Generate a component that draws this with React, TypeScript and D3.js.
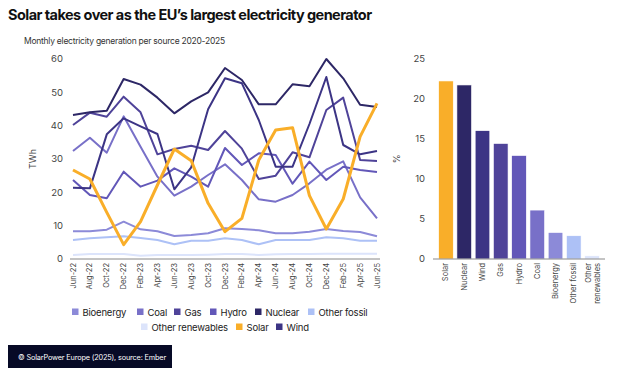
import * as d3 from "d3";
import React from "react";

// bimonthly points, Jun-22 .. Jun-25
const months = ["Jun-22", "Aug-22", "Oct-22", "Dec-22", "Feb-23", "Apr-23", "Jun-23", "Aug-23", "Oct-23", "Dec-23", "Feb-24", "Apr-24", "Jun-24", "Aug-24", "Oct-24", "Dec-24", "Feb-25", "Apr-25", "Jun-25"];

const nuclear = [43.2, 44, 44.5, 54, 52.3, 48.4, 43.7, 47.3, 50, 57.3, 53.7, 46.4, 46.4, 52.4, 51.8, 60, 54.2, 46.3, 45.6];
const wind = [21.4, 21.2, 37.4, 42.2, 39.8, 37.5, 20.9, 27.5, 44.9, 54.2, 52.7, 41.7, 27.7, 27.7, 40.5, 54.6, 34.2, 31.4, 32.4];
const gas = [40.2, 43.9, 42.7, 48.7, 44, 31.4, 33, 34, 32.7, 38.4, 33.1, 24, 25, 32, 30.5, 44.7, 48.4, 29.7, 29.4];
const hydro = [23.7, 19.2, 18.2, 26.2, 21.7, 23.5, 27.2, 24.7, 21.7, 33.3, 28.2, 31.7, 31.2, 22.6, 29.2, 23.7, 27.7, 26.7, 26.1];
const coal = [32.4, 36.4, 31.9, 42.8, 33.7, 24.7, 19, 21.7, 25.2, 28.4, 23.7, 17.9, 17.2, 19.2, 22.7, 26.8, 29.3, 18.5, 12.2];
const bioenergy = [8.3, 8.3, 8.8, 11.2, 8.9, 8.3, 6.9, 7.2, 7.7, 9.2, 9, 8.6, 7.7, 7.7, 8.2, 9, 8.4, 8.1, 6.8];
const otherFossil = [5.7, 6.2, 6.5, 6.8, 6.3, 5.7, 4.4, 5.5, 5.5, 6.2, 5.7, 4.4, 5.7, 5.7, 5.7, 6.5, 6.2, 5.5, 5.5];
const otherRenewables = [1.2, 1.5, 1.5, 1.5, 1.0, 1.2, 1.2, 1.2, 1.3, 1.5, 1.5, 1.2, 1.4, 1.5, 1.5, 1.6, 1.6, 1.6, 1.6];
const solar = [26.7, 24, 14, 4.3, 11.2, 22.2, 33, 29.5, 16.7, 8.2, 12.2, 29.7, 38.7, 39.4, 19, 9, 18, 36.7, 46.7];

const lineTicks = [0, 10, 20, 30, 40, 50, 60];

// share of generation, June 2025
const barSources = ["Solar", "Nuclear", "Wind", "Gas", "Hydro", "Coal", "Bioenergy", "Other fossil", "Other renewables"];
const barShares = [22.2, 21.7, 16, 14.4, 12.9, 6.1, 3.3, 2.9, 0.4];
const barTicks = [0, 5, 10, 15, 20, 25];

const colors: Record<string, string> = {
  "Nuclear": "#2d2766",
  "Wind": "#3c3485",
  "Gas": "#4f4399",
  "Hydro": "#6257b8",
  "Coal": "#7870c8",
  "Bioenergy": "#8c8ad8",
  "Other fossil": "#adc1f6",
  "Other renewables": "#dce4fb",
  "Solar": "#f9ae29",
};

// draw order, solar on top
const series: [string, number[]][] = [
  ["Other renewables", otherRenewables],
  ["Other fossil", otherFossil],
  ["Bioenergy", bioenergy],
  ["Coal", coal],
  ["Hydro", hydro],
  ["Gas", gas],
  ["Wind", wind],
  ["Nuclear", nuclear],
  ["Solar", solar],
];

const FONT = "Inter, 'Noto Sans', sans-serif";

export default function App() {
  const x = d3.scalePoint<string>().domain(months).range([73, 377]);
  const y = d3.scaleLinear().domain([0, 60]).range([259, 59]);
  const line = d3.line<number>()
    .x((_, i) => x(months[i]) as number)
    .y(d => y(d));

  const bx = d3.scaleBand<string>().domain(barSources).range([435, 603]).paddingInner(0.2).paddingOuter(0.2);
  const by = d3.scaleLinear().domain([0, 25]).range([259, 58.5]);

  // legend rows
  const row1 = [
    { name: "Bioenergy", x: 72 },
    { name: "Coal", x: 137 },
    { name: "Gas", x: 174 },
    { name: "Hydro", x: 210 },
    { name: "Nuclear", x: 255 },
    { name: "Other fossil", x: 308 },
  ];
  const row2 = [
    { name: "Other renewables", x: 141 },
    { name: "Solar", x: 236 },
    { name: "Wind", x: 276 },
  ];

  return (
    <svg width={626} height={372} style={{ position: "absolute", left: 0, top: 0, background: "#fff" }} fontFamily={FONT}>
      <text x={8} y={20} fontSize={14.5} fontWeight={700} letterSpacing={-0.55} fill="#111">Solar takes over as the EU’s largest electricity generator</text>
      <text x={24} y={44} fontSize={8.5} letterSpacing={-0.25} fill="#333">Monthly electricity generation per source 2020-2025</text>

      {/* line chart */}
      <g>
        {lineTicks.map(t => (
          <text key={t} x={63} y={y(t) + 3.2} fontSize={9.5} fill="#444" textAnchor="end">{t}</text>
        ))}
        <text transform={`translate(36,${y(30)}) rotate(-90)`} fontSize={9} fill="#444" textAnchor="middle">TWh</text>
        <line x1={70} x2={380} y1={259} y2={259} stroke="#888" strokeWidth={1} />
        {months.map(m => (
          <text key={m} transform={`translate(${(x(m) as number) + 2.5},263) rotate(-90)`} fontSize={7.5} fill="#444" textAnchor="end">{m}</text>
        ))}
        {series.map(([name, vals]) => (
          <path key={name} d={line(vals) ?? ""} fill="none" stroke={colors[name]}
            strokeWidth={name === "Solar" ? 3 : 2} strokeLinejoin="round" />
        ))}
      </g>

      {/* legend */}
      <g fontSize={9.5} letterSpacing={-0.2} fill="#222">
        {row1.map(d => (
          <g key={d.name}>
            <rect x={d.x} y={308.5} width={6.5} height={6.5} fill={colors[d.name]} />
            <text x={d.x + 10.5} y={315.5}>{d.name}</text>
          </g>
        ))}
        {row2.map(d => (
          <g key={d.name}>
            <rect x={d.x} y={323.5} width={6.5} height={6.5} fill={colors[d.name]} />
            <text x={d.x + 10.5} y={330.5}>{d.name}</text>
          </g>
        ))}
      </g>

      {/* bar chart */}
      <g>
        {barTicks.map(t => (
          <text key={t} x={425} y={by(t) + 3.2} fontSize={9.5} fill="#444" textAnchor="end">{t}</text>
        ))}
        <text transform={`translate(400,${by(12.5)}) rotate(-90)`} fontSize={9} fill="#444" textAnchor="middle">%</text>
        {barSources.map((s, i) => (
          <rect key={s} x={bx(s)} y={by(barShares[i])} width={bx.bandwidth()} height={259 - by(barShares[i])}
            fill={colors[s]} stroke="#fff" strokeWidth={0.6} />
        ))}
        <line x1={433} x2={605} y1={259} y2={259} stroke="#888" strokeWidth={1} />
        {barSources.map(s => {
          const cx = (bx(s) as number) + bx.bandwidth() / 2;
          if (s === "Other renewables") {
            return (
              <g key={s} transform={`translate(${cx},263) rotate(-90)`} fontSize={7.5} fill="#444" textAnchor="end">
                <text x={0} y={-1}>Other</text>
                <text x={0} y={8}>renewables</text>
              </g>
            );
          }
          return (
            <text key={s} transform={`translate(${cx + 2.5},263) rotate(-90)`} fontSize={7.5} fill="#444" textAnchor="end">{s}</text>
          );
        })}
      </g>

      {/* footer */}
      <rect x={8} y={345} width={164} height={23} fill="#070a26" />
      <text x={18} y={359.5} fontSize={7.3} letterSpacing={-0.15} fill="#fff">© SolarPower Europe (2025), source: Ember</text>
    </svg>
  );
}
